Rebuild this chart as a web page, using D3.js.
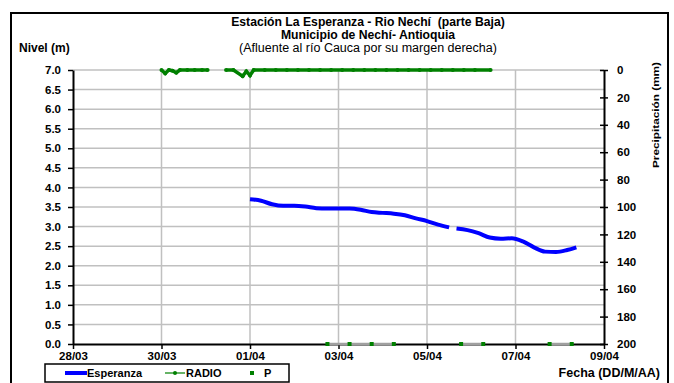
<!DOCTYPE html>
<html><head><meta charset="utf-8">
<script src="https://cdn.jsdelivr.net/npm/d3@7/dist/d3.min.js"></script>
<style>body{margin:0;background:#fff}svg{display:block;font-family:"Liberation Sans",Arial,sans-serif}</style>
</head><body><svg id="c" width="674" height="383"></svg>
<script>
const xTickLabels = ["28/03","30/03","01/04","03/04","05/04","07/04","09/04"];
const yLeftTicks = [0,0.5,1,1.5,2,2.5,3,3.5,4,4.5,5,5.5,6,6.5,7];
const yRightTicks = [0,20,40,60,80,100,120,140,160,180,200];
// Esperanza level (m)
const espTimes = ["04-01 00:00","04-01 06:00","04-01 12:00","04-01 18:00","04-02 00:00","04-02 06:00","04-02 12:00","04-02 18:00","04-03 00:00","04-03 06:00","04-03 12:00","04-03 18:00","04-04 00:00","04-04 06:00","04-04 12:00","04-04 18:00","04-05 00:00","04-05 06:00","04-05 12:00","04-05 14:00","04-05 16:00","04-05 22:00","04-06 04:00","04-06 10:00","04-06 16:00","04-06 22:00","04-07 04:00","04-07 10:00","04-07 16:00","04-07 22:00","04-08 04:00","04-08 09:00"];
const espValues = [3.70,3.66,3.57,3.53,3.53,3.51,3.47,3.46,3.46,3.46,3.43,3.37,3.35,3.33,3.29,3.21,3.14,3.05,2.98,null,2.95,2.91,2.83,2.72,2.69,2.70,2.62,2.47,2.36,2.35,2.40,2.47];
// RADIO precipitation (mm)
const radioTimes = ["03-30 00:00","03-30 02:00","03-30 04:00","03-30 06:00","03-30 08:00","03-30 10:00","03-30 14:00","03-30 18:00","03-30 22:00","03-31 01:00","03-31 06:00","03-31 11:00","03-31 15:00","03-31 20:00","03-31 22:00","04-01 00:00","04-01 02:00","04-01 08:00","04-01 14:00","04-01 20:00","04-02 02:00","04-02 08:00","04-02 14:00","04-02 20:00","04-03 02:00","04-03 08:00","04-03 14:00","04-03 20:00","04-04 02:00","04-04 08:00","04-04 14:00","04-04 20:00","04-05 02:00","04-05 08:00","04-05 14:00","04-05 20:00","04-06 02:00","04-06 10:30"];
const radioValues = [0,2.5,0,0.5,2,0,0,0,0,0,null,0,0,4.5,1,4,0,0,0,0,0,0,0,0,0,0,0,0,0,0,0,0,0,0,0,0,0,0];
// P (mm)
const pTimes = ["04-02 18:00","04-03 06:00","04-03 18:00","04-04 06:00","04-05 00:00","04-05 18:30","04-06 06:30","04-07 00:00","04-07 18:30","04-08 06:30"];
const pValues = [200,200,200,200,null,200,200,null,200,200];

const parse = d3.timeParse("%Y-%m-%d %H:%M");
const pt = s => parse("2011-" + s);
const svg = d3.select("#c");
const L = 73, R = 604, T = 70, B = 344;
const x = d3.scaleTime().domain([pt("03-28 00:00"), pt("04-09 00:00")]).range([L, R]);
const y = d3.scaleLinear().domain([0, 7]).range([B, T]);
const y2 = d3.scaleLinear().domain([0, 200]).range([T, B]);
const xTickDates = xTickLabels.map(s => d3.timeParse("%Y %d/%m")("2011 " + s));

// outer border
svg.append("rect").attr("x", 11).attr("y", 13).attr("width", 657).attr("height", 380)
  .attr("fill", "none").attr("stroke", "#000").attr("stroke-width", 2);

// grid
const g = svg.append("g");
g.selectAll(".hg").data(yLeftTicks.filter(v => v > 0)).join("line")
  .attr("x1", L).attr("x2", R).attr("y1", d => y(d)).attr("y2", d => y(d))
  .attr("stroke", "#c0c0c0").attr("stroke-width", 1.5);
g.selectAll(".vg").data(xTickDates.slice(1, -1)).join("line")
  .attr("x1", d => x(d)).attr("x2", d => x(d)).attr("y1", T).attr("y2", B)
  .attr("stroke", "#c0c0c0").attr("stroke-width", 1.5);

// axes
const axL = svg.append("g").attr("transform", `translate(${L},0)`)
  .call(d3.axisLeft(y).tickValues(yLeftTicks).tickFormat(d3.format(".1f")).tickSize(5).tickSizeOuter(0));
const axR = svg.append("g").attr("transform", `translate(${R},0)`)
  .call(d3.axisRight(y2).tickValues(yRightTicks).tickSize(4).tickSizeOuter(0).tickPadding(9));
axR.selectAll(".tick line").attr("x1", -4);
const axB = svg.append("g").attr("transform", `translate(0,${B})`)
  .call(d3.axisBottom(x).tickValues(xTickDates).tickFormat((d, i) => xTickLabels[i]).tickSize(5).tickSizeOuter(0).tickPadding(3));
[axL, axR, axB].forEach(a => {
  a.select(".domain").attr("stroke", "#000").attr("stroke-width", 2);
  a.selectAll(".tick line").attr("stroke", "#000").attr("stroke-width", 1.5);
  a.selectAll("text").attr("font-size", 11.5).attr("font-weight", "bold").attr("fill", "#000")
    .attr("font-family", "Liberation Sans, Arial, sans-serif");
});
axL.selectAll("text").attr("x", -12);

// P series (on secondary axis)
const pData = pTimes.map((t, i) => ({ t: pt(t), v: pValues[i] }));
svg.append("path").datum(pData)
  .attr("d", d3.line().defined(d => d.v !== null).x(d => x(d.t)).y(d => y2(d.v)))
  .attr("fill", "none").attr("stroke", "#a0a0a0").attr("stroke-width", 2.5);
svg.selectAll(".pdot").data(pData.filter(d => d.v !== null)).join("rect")
  .attr("x", d => x(d.t) - 2).attr("y", d => y2(d.v) - 2).attr("width", 4).attr("height", 4)
  .attr("fill", "#008000");

// RADIO
const rData = radioTimes.map((t, i) => ({ t: pt(t), v: radioValues[i] }));
svg.append("path").datum(rData)
  .attr("d", d3.line().defined(d => d.v !== null).x(d => x(d.t)).y(d => y2(d.v)))
  .attr("fill", "none").attr("stroke", "#008000").attr("stroke-width", 3.5);
svg.selectAll(".rdot").data(rData.filter(d => d.v !== null)).join("circle")
  .attr("cx", d => x(d.t)).attr("cy", d => y2(d.v)).attr("r", 2).attr("fill", "#008000");

// Esperanza
const eData = espTimes.map((t, i) => ({ t: pt(t), v: espValues[i] }));
svg.append("path").datum(eData)
  .attr("d", d3.line().defined(d => d.v !== null).curve(d3.curveMonotoneX).x(d => x(d.t)).y(d => y(d.v)))
  .attr("fill", "none").attr("stroke", "#0000ff").attr("stroke-width", 4);

// titles
const tt = svg.append("g").attr("font-family", "Liberation Sans, Arial, sans-serif").attr("fill", "#000").attr("text-anchor", "middle");
tt.append("text").attr("x", 368).attr("y", 26).attr("font-size", 12.2).attr("font-weight", "bold").text("Estación La Esperanza - Rio Nechí  (parte Baja)").style("white-space", "pre");
tt.append("text").attr("x", 368).attr("y", 39).attr("font-size", 12.2).attr("font-weight", "bold").text("Municipio de Nechí- Antioquia");
tt.append("text").attr("x", 368).attr("y", 52).attr("font-size", 12.5).text("(Afluente al río Cauca por su margen derecha)");
svg.append("text").attr("x", 19).attr("y", 52).attr("font-size", 12).attr("font-weight", "bold").text("Nivel (m)");
svg.append("text").attr("x", 660).attr("y", 377).attr("text-anchor", "end").attr("font-size", 12.5).attr("font-weight", "bold").text("Fecha (DD/M/AA)");
svg.append("text").attr("transform", "translate(659,168) rotate(-90)").attr("font-size", 9.5).attr("font-weight", "bold")
  .attr("textLength", 106).attr("lengthAdjust", "spacingAndGlyphs").text("Precipitación (mm)");

// legend
const lg = svg.append("g");
lg.append("rect").attr("x", 45).attr("y", 364).attr("width", 244).attr("height", 18).attr("fill", "#fff").attr("stroke", "#000").attr("stroke-width", 1.5);
lg.append("line").attr("x1", 65).attr("x2", 87).attr("y1", 373).attr("y2", 373).attr("stroke", "#0000ff").attr("stroke-width", 4);
lg.append("text").attr("x", 87).attr("y", 377).attr("font-size", 11).attr("font-weight", "bold").text("Esperanza");
lg.append("line").attr("x1", 165).attr("x2", 185).attr("y1", 373).attr("y2", 373).attr("stroke", "#008000").attr("stroke-width", 1.2);
lg.append("circle").attr("cx", 175).attr("cy", 373).attr("r", 2).attr("fill", "#008000");
lg.append("text").attr("x", 186).attr("y", 377).attr("font-size", 11).attr("font-weight", "bold").text("RADIO");
lg.append("rect").attr("x", 250).attr("y", 371).attr("width", 4).attr("height", 4).attr("fill", "#008000");
lg.append("text").attr("x", 264).attr("y", 377).attr("font-size", 11).attr("font-weight", "bold").text("P");
</script></body></html>
